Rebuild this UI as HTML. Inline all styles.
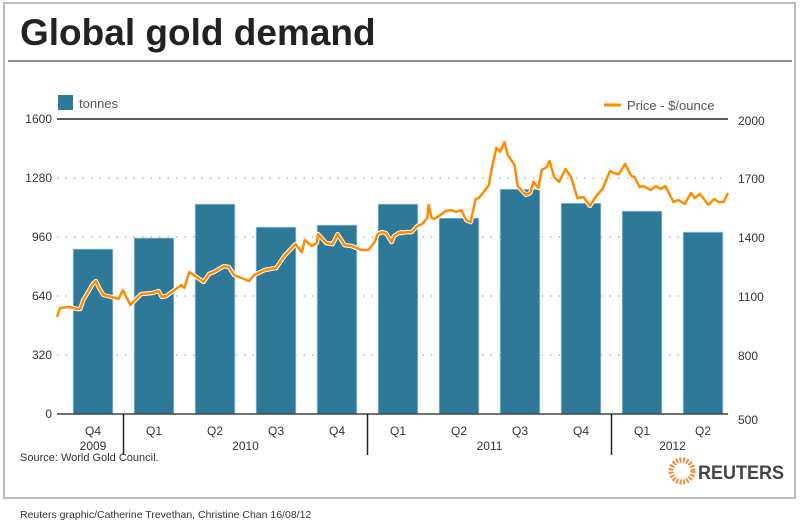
<!DOCTYPE html>
<html><head><meta charset="utf-8"><style>
body{margin:0;background:#fff;font-family:"Liberation Sans",Arial,sans-serif;}
svg{display:block}
</style></head><body>
<svg id="c" width="800" height="526" viewBox="0 0 800 526" xmlns="http://www.w3.org/2000/svg">
<rect x="4" y="3" width="791" height="495" fill="#fff" stroke="#bbb" stroke-width="2"/>
<text x="20" y="45" font-size="37" font-weight="bold" fill="#222">Global gold demand</text>
<line x1="8" y1="61" x2="792" y2="61" stroke="#666" stroke-width="1.5"/>
<g id="grid"></g>
<g id="bars"></g>
<g id="line"></g>
<g id="axes"></g>
<rect x="58" y="95" width="15" height="15" fill="#2e7898"/>
<text x="79" y="108" font-size="13" fill="#555">tonnes</text>
<line x1="604" y1="105" x2="621" y2="105" stroke="#ff8c00" stroke-width="3"/>
<text x="627" y="110" font-size="13" fill="#555">Price - $/ounce</text>
<text x="20" y="461" font-size="11" fill="#333">Source: World Gold Council.</text>
<g>
<circle cx="682" cy="471" r="11" fill="none" stroke="#f58a3c" stroke-width="5" stroke-dasharray="2 1.5"/>
<text x="698" y="479" font-size="19" font-weight="bold" fill="#444" textLength="86" lengthAdjust="spacingAndGlyphs">REUTERS</text>
</g>
<text x="20" y="518" font-size="10.5" fill="#333">Reuters graphic/Catherine Trevethan, Christine Chan   16/08/12</text>
</svg>
<script>
const categories=["Q4","Q1","Q2","Q3","Q4","Q1","Q2","Q3","Q4","Q1","Q2"];
const years=["2009","2010","2011","2012"];
const yearSpans=[[0,1],[1,5],[5,9],[9,11]];
const tonnes=[895,955,1139,1014,1025,1139,1063,1220,1144,1101,987];
const leftTicks=[0,320,640,960,1280,1600];
const rightTicks=[500,800,1100,1400,1700,2000];
// time index of each price sample
const priceTimes=[-0.08,-0.03,0.12,0.24,0.29,0.34,0.49,0.54,0.59,0.66,0.79,0.9,0.97,1.09,1.26,1.43,1.54,1.59,1.66,1.79,1.9,1.95,2.03,2.255,2.34,2.42,2.58,2.66,2.74,2.9,2.98,3.06,3.23,3.39,3.41,3.54,3.72,3.82,3.87,3.98,4.06,4.08,4.21,4.31,4.39,4.5,4.61,4.77,4.88,4.98,5.03,5.1,5.16,5.25,5.29,5.36,5.41,5.41,5.49,5.57,5.66,5.74,5.82,5.84,5.89,5.93,6.03,6.11,6.2,6.28,6.36,6.44,6.51,6.59,6.64,6.72,6.8,6.84,6.92,6.98,7.05,7.1,7.21,7.26,7.39,7.46,7.51,7.59,7.64,7.72,7.77,7.84,7.92,8.02,8.11,8.21,8.31,8.41,8.51,8.61,8.73,8.79,8.87,8.97,9.07,9.12,9.2,9.26,9.38,9.46,9.54,9.61,9.66,9.74,9.82,9.92,10.02,10.08,10.16,10.3,10.39,10.46,10.54,10.61];
const prices=[993,1039,1044,1034,1034,1080,1161,1176,1141,1105,1095,1085,1130,1054,1110,1115,1125,1095,1100,1130,1156,1141,1222,1171,1212,1222,1252,1247,1207,1186,1176,1207,1232,1242,1242,1303,1364,1323,1385,1354,1369,1415,1369,1364,1415,1359,1354,1334,1334,1374,1415,1425,1420,1374,1405,1420,1425,1420,1425,1425,1456,1466,1497,1563,1497,1492,1512,1532,1537,1527,1537,1486,1476,1593,1598,1629,1664,1740,1853,1833,1883,1817,1766,1659,1614,1624,1680,1649,1740,1755,1787,1705,1680,1746,1705,1598,1603,1558,1608,1644,1736,1725,1720,1771,1710,1705,1654,1659,1639,1659,1644,1659,1629,1578,1588,1568,1624,1598,1619,1563,1593,1578,1578,1624,1603,1619,1598];
const X0=62.5,BW=61,YB=414,YT=119;
const TMIN=-0.08,TMAX=10.61,PX0=57,PX1=728;
const NS='http://www.w3.org/2000/svg';
function yT(v){return YB-(v/1600)*(YB-YT);}
function yP(v){return YB-((v-500)/1500)*(YB-YT);}
function xQ(t){return X0+t*BW;}
function xTime(t){return PX0+(t-TMIN)/(TMAX-TMIN)*(PX1-PX0);}
function mk(tag,attrs,parent,txt){const e=document.createElementNS(NS,tag);for(const k in attrs)e.setAttribute(k,attrs[k]);if(txt!==undefined)e.textContent=txt;parent.appendChild(e);return e;}
const gGrid=document.getElementById('grid'),gBars=document.getElementById('bars'),gLine=document.getElementById('line'),gAxes=document.getElementById('axes');
leftTicks.forEach((v)=>{
  const y=yT(v);
  if(v>0&&v<1600){const g=mk('line',{x1:57,x2:728,y1:y,y2:y,stroke:'#999','stroke-dasharray':'1.5 7'},gGrid);
  
  }
  const t=mk('text',{x:52,y:y+4,'font-size':12,fill:'#333','text-anchor':'end'},gAxes,String(v));
  
  
});
rightTicks.forEach((v)=>{
  const t=mk('text',{x:738,y:yP(v)+(v===500?10:(v===2000?6:5)),'font-size':12,fill:'#333'},gAxes,String(v));
  
  
});
const topRule=mk('line',{x1:57,x2:728,y1:YT,y2:YT,stroke:'#222','stroke-width':1.5},gAxes);


tonnes.forEach((v,i)=>{
  const cx=xQ(i+0.5);
  const r=mk('rect',{x:cx-20,y:yT(v),width:40,height:YB-yT(v),fill:'#2e7898',stroke:'#d0e4ee','stroke-width':0.8},gBars);
  
  
  const t=mk('text',{x:cx,y:435,'font-size':12,fill:'#333','text-anchor':'middle'},gAxes,categories[i]);
  
  
});
const base=mk('line',{x1:57,x2:728,y1:YB,y2:YB,stroke:'#444','stroke-width':1.5},gAxes);


yearSpans.forEach((s,i)=>{
  const t=mk('text',{x:(xQ(s[0])+xQ(s[1]))/2,y:450,'font-size':12,fill:'#333','text-anchor':'middle'},gAxes,years[i]);
  
  
  if(i>0){const l=mk('line',{x1:xQ(s[0]),x2:xQ(s[0]),y1:YB,y2:455,stroke:'#222','stroke-width':1.5},gAxes);
  
  }
});
const d=prices.map((p,i)=>(i?'L':'M')+xTime(priceTimes[i]).toFixed(1)+','+yP(p).toFixed(1)).join(' ');
const pl=mk('path',{d:d,fill:'none',stroke:'#fff','stroke-width':4.5,'stroke-linejoin':'round'},gLine);


const pl2=mk('path',{d:d,fill:'none',stroke:'#ff8c00','stroke-width':2.5,'stroke-linejoin':'round'},gLine);


</script>
</body></html>
